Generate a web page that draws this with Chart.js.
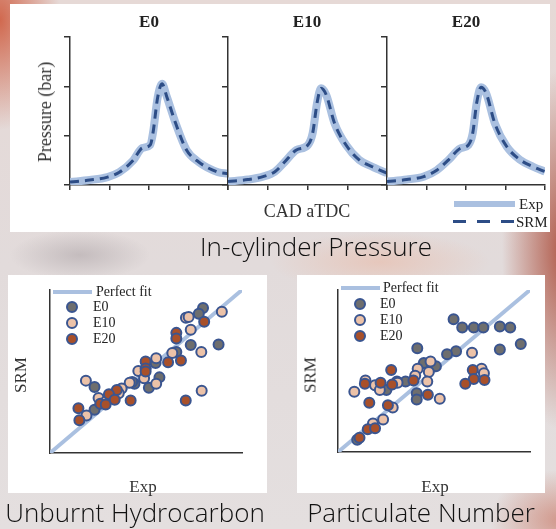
<!DOCTYPE html>
<html><head><meta charset="utf-8">
<script src="https://cdn.jsdelivr.net/npm/chart.js@4/dist/chart.umd.min.js"></script>
<style>
html,body{margin:0;padding:0;}
body{width:556px;height:529px;position:relative;overflow:hidden;
background:
 radial-gradient(ellipse 60px 110px at 0px 20px, rgba(205,85,55,0.85), rgba(205,85,55,0) 100%),
 radial-gradient(ellipse 60px 180px at 562px 250px, rgba(165,60,40,0.8), rgba(165,60,40,0) 100%),
 radial-gradient(ellipse 110px 30px at 380px 262px, rgba(235,175,150,0.45), rgba(235,175,150,0) 100%),
 radial-gradient(ellipse 70px 50px at 560px 520px, rgba(190,80,55,0.5), rgba(190,80,55,0) 100%),
 radial-gradient(ellipse 70px 25px at 80px 255px, rgba(140,130,135,0.35), rgba(140,130,135,0) 100%),
 linear-gradient(180deg,#e6d9d6 0%,#e2dbdb 50%,#e4dfdf 100%);
font-family:"Liberation Serif",serif;}
.panel{position:absolute;background:#fff;}
canvas{position:absolute;}
.t{position:absolute;white-space:nowrap;color:#222;line-height:1;}
.big{font-family:"Open Sans","Noto Sans",sans-serif;font-weight:300;font-size:26px;color:#111;transform:translate(-50%,-50%);}
.lg{position:absolute;}
</style></head><body>
<div class="panel" style="left:10px;top:4px;width:540px;height:228px;"></div>
<div class="panel" style="left:8px;top:275px;width:259px;height:218px;"></div>
<div class="panel" style="left:297px;top:275px;width:248px;height:218px;"></div>

<canvas id="p0" width="180" height="165" style="left:50px;top:30px;"></canvas>
<canvas id="p1" width="180" height="165" style="left:208px;top:30px;"></canvas>
<canvas id="p2" width="180" height="165" style="left:367px;top:30px;"></canvas>
<canvas id="s0" width="259" height="218" style="left:8px;top:275px;"></canvas>
<canvas id="s1" width="248" height="218" style="left:297px;top:275px;"></canvas>

<div class="t" style="left:149px;top:21px;font-weight:bold;font-size:17px;transform:translate(-50%,-50%);">E0</div>
<div class="t" style="left:307px;top:21px;font-weight:bold;font-size:17px;transform:translate(-50%,-50%);">E10</div>
<div class="t" style="left:466px;top:21px;font-weight:bold;font-size:17px;transform:translate(-50%,-50%);">E20</div>
<div class="t" style="left:45px;top:112px;font-size:18px;color:#333;transform:translate(-50%,-50%) rotate(-90deg);">Pressure (bar)</div>
<div class="t" style="left:307px;top:211px;font-size:18px;color:#333;transform:translate(-50%,-50%);">CAD aTDC</div>
<div class="lg" style="left:454px;top:201px;width:61px;height:6px;background:#aac0e0;"></div>
<div class="t" style="left:519px;top:204px;font-size:15px;transform:translateY(-50%);">Exp</div>
<div class="lg" style="left:453px;top:220px;width:61px;height:3px;background:repeating-linear-gradient(90deg,#2d4d86 0 13px,transparent 13px 24px);"></div>
<div class="t" style="left:516px;top:222px;font-size:15px;transform:translateY(-50%);">SRM</div>
<div class="t big" style="left:316px;top:246px;">In-cylinder Pressure</div>

<!-- UHC legend -->
<div class="lg" style="left:53px;top:290px;width:39px;height:4px;background:#aac0e0;"></div>
<div class="t" style="left:96px;top:292px;font-size:14px;transform:translateY(-50%);">Perfect fit</div>
<div class="lg" style="left:66px;top:301px;width:8px;height:8px;border-radius:50%;background:#6e6e6e;border:2px solid #3a5590;"></div>
<div class="t" style="left:93px;top:307px;font-size:14px;transform:translateY(-50%);">E0</div>
<div class="lg" style="left:66px;top:317px;width:8px;height:8px;border-radius:50%;background:#ecc2a8;border:2px solid #3a5590;"></div>
<div class="t" style="left:93px;top:323px;font-size:14px;transform:translateY(-50%);">E10</div>
<div class="lg" style="left:66px;top:333px;width:8px;height:8px;border-radius:50%;background:#a8502a;border:2px solid #3a5590;"></div>
<div class="t" style="left:93px;top:339px;font-size:14px;transform:translateY(-50%);">E20</div>
<div class="t" style="left:20px;top:375px;font-size:17px;color:#333;transform:translate(-50%,-50%) rotate(-90deg);">SRM</div>
<div class="t" style="left:143px;top:486px;font-size:17px;color:#333;transform:translate(-50%,-50%);">Exp</div>
<div class="t big" style="left:135px;top:512px;">Unburnt Hydrocarbon</div>

<!-- PN legend -->
<div class="lg" style="left:341px;top:286px;width:39px;height:4px;background:#aac0e0;"></div>
<div class="t" style="left:383px;top:288px;font-size:14px;transform:translateY(-50%);">Perfect fit</div>
<div class="lg" style="left:354px;top:298px;width:8px;height:8px;border-radius:50%;background:#6e6e6e;border:2px solid #3a5590;"></div>
<div class="t" style="left:380px;top:304px;font-size:14px;transform:translateY(-50%);">E0</div>
<div class="lg" style="left:354px;top:314px;width:8px;height:8px;border-radius:50%;background:#ecc2a8;border:2px solid #3a5590;"></div>
<div class="t" style="left:380px;top:320px;font-size:14px;transform:translateY(-50%);">E10</div>
<div class="lg" style="left:354px;top:330px;width:8px;height:8px;border-radius:50%;background:#a8502a;border:2px solid #3a5590;"></div>
<div class="t" style="left:380px;top:336px;font-size:14px;transform:translateY(-50%);">E20</div>
<div class="t" style="left:310px;top:375px;font-size:17px;color:#333;transform:translate(-50%,-50%) rotate(-90deg);">SRM</div>
<div class="t" style="left:435px;top:486px;font-size:17px;color:#333;transform:translate(-50%,-50%);">Exp</div>
<div class="t big" style="left:421px;top:512px;">Particulate Number</div>

<script>
// ---- In-cylinder pressure (tick units) ----
const cadTicks = [0, 1, 2, 3, 4];
const pressureTicks = [0, 1, 2, 3];
const e0Cad = [0, 0.5, 0.95, 1.25, 1.6, 1.83, 2.03, 2.1, 2.22, 2.33, 2.45, 2.67, 2.95, 3.25, 3.75, 4.0];
const e0Exp = [0.06, 0.1, 0.16, 0.26, 0.5, 0.75, 0.81, 1.05, 1.78, 2.05, 1.79, 1.26, 0.71, 0.47, 0.26, 0.23];
const e0Srm = [0.06, 0.1, 0.16, 0.26, 0.5, 0.75, 0.81, 1.05, 1.78, 2.05, 1.79, 1.26, 0.71, 0.47, 0.26, 0.23];
const e10Cad = [0, 0.5, 0.88, 1.18, 1.43, 1.72, 2.01, 2.13, 2.24, 2.34, 2.47, 2.68, 2.97, 3.3, 3.63, 4.0];
const e10Exp = [0.07, 0.11, 0.17, 0.27, 0.47, 0.71, 0.81, 1.05, 1.66, 1.96, 1.83, 1.25, 0.81, 0.51, 0.37, 0.24];
const e10Srm = [0.07, 0.11, 0.17, 0.27, 0.47, 0.71, 0.81, 1.05, 1.66, 1.96, 1.83, 1.25, 0.81, 0.51, 0.37, 0.24];
const e20Cad = [0, 0.5, 0.93, 1.26, 1.56, 1.85, 2.06, 2.17, 2.27, 2.38, 2.51, 2.73, 3.03, 3.37, 3.7, 4.0];
const e20Exp = [0.07, 0.11, 0.17, 0.3, 0.51, 0.74, 0.81, 1.05, 1.66, 1.98, 1.86, 1.25, 0.78, 0.51, 0.37, 0.27];
const e20Srm = [0.07, 0.11, 0.17, 0.3, 0.51, 0.74, 0.81, 1.05, 1.66, 1.98, 1.86, 1.25, 0.78, 0.51, 0.37, 0.27];

// ---- Unburnt hydrocarbon (Exp vs SRM, 0-100) ----
const uhcE0x = [79.7, 77.5, 87.8, 73.3, 65.8, 55, 57, 51.5, 44, 23.2, 23.2, 42.8];
const uhcE0y = [88.9, 85.4, 66.5, 66.3, 62, 55.2, 46.4, 40, 42.5, 40.5, 26.5, 43.5];
const uhcE10x = [70.8, 72.2, 89.5, 73.3, 78.8, 63.7, 55.3, 46, 49, 55.3, 79, 18.7, 41.5, 37.3, 25.3, 19, 29.2, 35.8];
const uhcE10y = [83, 83.4, 86.7, 75.6, 62, 61.4, 58.1, 50.3, 45.8, 42.5, 38.2, 44.4, 43.1, 39.6, 33.7, 23, 31.8, 36.6];
const uhcE20x = [65.8, 65.8, 80.3, 61.5, 68.2, 49.8, 49.8, 49.8, 34.8, 30.7, 33.7, 42, 26.2, 29, 14.8, 15.3, 70.7];
const uhcE20y = [73.7, 70.2, 80.5, 55.6, 56.7, 56.1, 51.8, 50, 38.6, 36, 32.7, 32.2, 30.2, 29.8, 27.5, 20.1, 32.2];

// ---- Particulate number ----
const pnE0x = [60.2, 64.7, 70.7, 75.7, 84.3, 89.7, 95.2, 84.3, 61.5, 56.8, 41.3, 44.7, 51, 35.2, 30.7, 25.2, 41, 41, 10];
const pnE0y = [81.9, 76.9, 76.9, 76.9, 77.5, 76.9, 66.7, 63.3, 62.2, 60.4, 64.1, 54.9, 52.9, 43.5, 43.5, 38.2, 36.3, 32.4, 7.5];
const pnE10x = [69.8, 48.2, 41.5, 47.3, 46.5, 40.2, 14.3, 19.3, 21.8, 31, 8.5, 28.5, 53, 23.5, 18.2, 74.8, 76];
const pnE10y = [61.2, 55.9, 51.4, 49.4, 43.5, 47.1, 44.1, 41.2, 38.2, 42.8, 37.2, 27.5, 32.8, 20, 17.6, 51.4, 48.6];
const pnE20x = [27.7, 39.3, 14, 22.2, 28.2, 16.3, 26, 46.8, 15.5, 19.3, 70.2, 70.7, 76.3, 66.3, 11.2];
const pnE20y = [50.6, 44.1, 42.2, 42.7, 41.6, 30.4, 28.8, 35.3, 14.1, 14.7, 50.6, 45.1, 44.5, 42.2, 8.8];
const fitLine = [0, 100];

const EXP_COL = '#aac0e0', SRM_COL = '#2d4d86', AXIS = '#333333';
const zip = (xs, ys) => xs.map((x, i) => ({x, y: ys[i]}));

function pressureChart(id, cad, exp, srm, right) {
  new Chart(document.getElementById(id), {
    type: 'line',
    data: { datasets: [
      { label: 'SRM', data: zip(cad, srm), borderColor: SRM_COL, borderWidth: 3, borderDash: [9, 6],
        pointRadius: 0, cubicInterpolationMode: 'monotone', fill: false },
      { label: 'Exp', data: zip(cad, exp), borderColor: EXP_COL, borderWidth: 8,
        pointRadius: 0, cubicInterpolationMode: 'monotone', fill: false }
    ]},
    options: {
      responsive: false, animation: false, devicePixelRatio: 1,
      layout: { padding: { left: 14, right: right, top: 7, bottom: 5 } },
      plugins: { legend: { display: false }, tooltip: { enabled: false } },
      scales: {
        x: { type: 'linear', min: cadTicks[0], max: cadTicks[cadTicks.length - 1],
             afterBuildTicks: s => { s.ticks = cadTicks.map(v => ({value: v})); },
             ticks: { display: false },
             grid: { drawOnChartArea: false, drawTicks: true, tickLength: 5, color: AXIS, lineWidth: 1.5 },
             border: { display: true, color: AXIS, width: 1.5 } },
        y: { type: 'linear', min: pressureTicks[0], max: pressureTicks[pressureTicks.length - 1],
             afterBuildTicks: s => { s.ticks = pressureTicks.map(v => ({value: v})); },
             ticks: { display: false },
             grid: { drawOnChartArea: false, drawTicks: true, tickLength: 6, color: AXIS, lineWidth: 1.5 },
             border: { display: true, color: AXIS, width: 1.5 } }
      }
    }
  });
}
pressureChart('p0', e0Cad, e0Exp, e0Srm, 2);
pressureChart('p1', e10Cad, e10Exp, e10Srm, 1);
pressureChart('p2', e20Cad, e20Exp, e20Srm, 2);

function scatterChart(id, pad, e0x, e0y, e10x, e10y, e20x, e20y) {
  const pt = (fill) => ({ backgroundColor: fill, borderColor: '#3a5590', borderWidth: 2, pointRadius: 5,
                          pointHoverRadius: 5, showLine: false });
  new Chart(document.getElementById(id), {
    type: 'scatter',
    data: { datasets: [
      Object.assign({ label: 'E0', data: zip(e0x, e0y), order: 3 }, pt('#6e6e6e')),
      Object.assign({ label: 'E10', data: zip(e10x, e10y), order: 2 }, pt('#ecc2a8')),
      Object.assign({ label: 'E20', data: zip(e20x, e20y), order: 1 }, pt('#a8502a')),
      { label: 'Perfect fit', type: 'line', data: zip(fitLine, fitLine), borderColor: EXP_COL, borderWidth: 4,
        pointRadius: 0, order: 10, fill: false }
    ]},
    options: {
      responsive: false, animation: false, devicePixelRatio: 1,
      layout: { padding: pad },
      plugins: { legend: { display: false }, tooltip: { enabled: false } },
      scales: {
        x: { type: 'linear', min: 0, max: 100, ticks: { display: false }, grid: { display: false },
             border: { display: true, color: AXIS, width: 1.5 } },
        y: { type: 'linear', min: 0, max: 100, ticks: { display: false }, grid: { display: false },
             border: { display: true, color: AXIS, width: 1.5 } }
      }
    }
  });
}
scatterChart('s0', { left: 34, top: 15, right: 25, bottom: 32 }, uhcE0x, uhcE0y, uhcE10x, uhcE10y, uhcE20x, uhcE20y);
scatterChart('s1', { left: 33, top: 15, right: 15, bottom: 33 }, pnE0x, pnE0y, pnE10x, pnE10y, pnE20x, pnE20y);
</script>
</body></html>
